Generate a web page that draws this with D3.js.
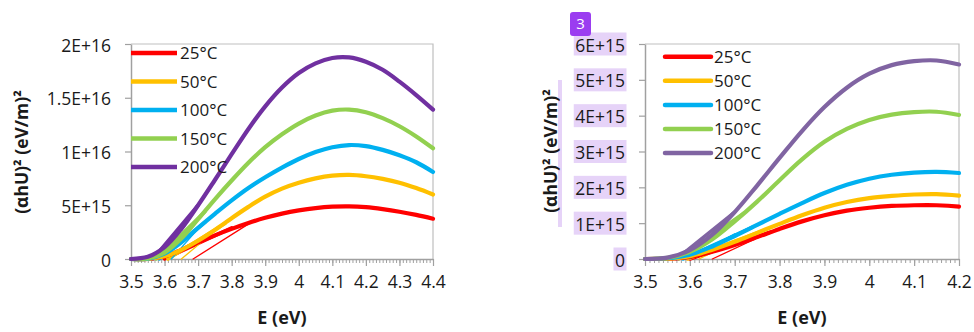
<!DOCTYPE html>
<html><head><meta charset="utf-8">
<script src="https://cdn.jsdelivr.net/npm/d3@7"></script>
<style>
body{margin:0;background:#fff}
svg{display:block}
text{font-family:"Open Sans","Noto Sans",sans-serif;fill:#1a1a1a}
</style>
</head><body>
<svg id="c" width="974" height="332"></svg>
<script>
// Tauc plots, (αhU)² versus photon energy, at five temperatures
const temps = ["25°C", "50°C", "100°C", "150°C", "200°C"];
const leftColors = ["#ff0000", "#ffc000", "#00b0f0", "#92d050", "#7030a0"];
const rightColors = ["#ff0000", "#ffc000", "#00b0f0", "#92d050", "#8064a2"];

// Left panel, E from 3.50 to 4.40 eV
const leftE = [3.50, 3.55, 3.60, 3.65, 3.70, 3.75, 3.80, 3.85, 3.90, 3.95, 4.00, 4.05, 4.10, 4.15, 4.20, 4.25, 4.30, 4.35, 4.40];
const left25  = [0, 0.02e15, 0.25e15, 0.85e15, 1.55e15, 2.2e15, 2.8e15, 3.35e15, 3.83e15, 4.22e15, 4.52e15, 4.74e15, 4.87e15, 4.9e15, 4.82e15, 4.64e15, 4.4e15, 4.1e15, 3.75e15];
const left50  = [0, 0.02e15, 0.25e15, 0.85e15, 1.7e15, 2.7e15, 3.8e15, 4.85e15, 5.8e15, 6.55e15, 7.1e15, 7.5e15, 7.75e15, 7.82e15, 7.7e15, 7.45e15, 7.1e15, 6.6e15, 6.0e15];
const left100 = [0, 0.03e15, 0.5e15, 1.55e15, 2.9e15, 4.2e15, 5.45e15, 6.6e15, 7.6e15, 8.5e15, 9.3e15, 9.95e15, 10.4e15, 10.6e15, 10.5e15, 10.15e15, 9.65e15, 9.0e15, 8.1e15];
const left150 = [0, 0.05e15, 0.6e15, 1.9e15, 3.7e15, 5.55e15, 7.3e15, 8.95e15, 10.4e15, 11.6e15, 12.6e15, 13.35e15, 13.8e15, 13.9e15, 13.65e15, 13.1e15, 12.35e15, 11.4e15, 10.3e15];
const left200 = [0, 0.2e15, 1.1e15, 2.8e15, 5.0e15, 7.35e15, 9.75e15, 12.1e15, 14.2e15, 15.95e15, 17.3e15, 18.2e15, 18.7e15, 18.75e15, 18.35e15, 17.6e15, 16.5e15, 15.25e15, 13.9e15];
const leftSeries = [left25, left50, left100, left150, left200];

// Right panel, E from 3.50 to 4.20 eV
const rightE = [3.50, 3.55, 3.60, 3.65, 3.70, 3.75, 3.80, 3.85, 3.90, 3.95, 4.00, 4.05, 4.10, 4.15, 4.20];
const right25  = [0, 0.01e15, 0.06e15, 0.2e15, 0.39e15, 0.61e15, 0.84e15, 1.05e15, 1.22e15, 1.35e15, 1.43e15, 1.48e15, 1.5e15, 1.5e15, 1.46e15];
const right50  = [0, 0.01e15, 0.08e15, 0.26e15, 0.48e15, 0.73e15, 0.98e15, 1.22e15, 1.43e15, 1.59e15, 1.7e15, 1.76e15, 1.8e15, 1.81e15, 1.77e15];
const right100 = [0, 0.02e15, 0.12e15, 0.35e15, 0.64e15, 0.95e15, 1.26e15, 1.56e15, 1.84e15, 2.07e15, 2.24e15, 2.35e15, 2.41e15, 2.43e15, 2.4e15];
const right150 = [0, 0.03e15, 0.2e15, 0.55e15, 1.05e15, 1.6e15, 2.2e15, 2.78e15, 3.27e15, 3.63e15, 3.88e15, 4.03e15, 4.1e15, 4.11e15, 4.02e15];
const right200 = [0, 0.04e15, 0.25e15, 0.68e15, 1.31e15, 2.05e15, 2.82e15, 3.57e15, 4.24e15, 4.78e15, 5.17e15, 5.41e15, 5.52e15, 5.54e15, 5.43e15];
const rightSeries = [right25, right50, right100, right150, right200];

// Linear fits of the absorption edge: [E at zero, E at end, value at end]
const leftFits  = [[3.60, 3.80, 2.9e15], [3.61, 3.78, 3.3e15], [3.585, 3.72, 3.4e15], [3.575, 3.72, 4.4e15], [3.565, 3.70, 5.0e15]];
const rightFits = [[3.60, 3.78, 0.75e15], [3.595, 3.76, 0.78e15], [3.585, 3.74, 0.89e15], [3.575, 3.72, 1.28e15], [3.57, 3.70, 1.31e15]];
// Thin tangent lines near the onset: [series, E at zero, E at end, value at end]
const leftTangents  = [[0, 3.685, 3.86, 3.45e15], [1, 3.65, 3.75, 2.6e15], [2, 3.62, 3.70, 2.8e15]];
const rightTangents = [[0, 3.65, 3.77, 0.7e15], [1, 3.62, 3.72, 0.6e15], [2, 3.60, 3.70, 0.7e15]];

// Axis ticks
const leftXTicks = [3.5, 3.6, 3.7, 3.8, 3.9, 4.0, 4.1, 4.2, 4.3, 4.4];
const leftXLabels = ["3.5", "3.6", "3.7", "3.8", "3.9", "4", "4.1", "4.2", "4.3", "4.4"];
const leftYTicks = [0, 5e15, 1e16, 1.5e16, 2e16];
const leftYLabels = ["0", "5E+15", "1E+16", "1.5E+16", "2E+16"];
const rightXTicks = [3.5, 3.6, 3.7, 3.8, 3.9, 4.0, 4.1, 4.2];
const rightXLabels = ["3.5", "3.6", "3.7", "3.8", "3.9", "4", "4.1", "4.2"];
const rightYTicks = [0, 1e15, 2e15, 3e15, 4e15, 5e15, 6e15];
const rightYLabels = ["0", "1E+15", "2E+15", "3E+15", "4E+15", "5E+15", "6E+15"];

const yTitle = "(αhU)² (eV/m)²";
const xTitle = "E (eV)";

const svg = d3.select("#c");

function panel(o) {
  const g = svg.append("g");
  const x = d3.scaleLinear().domain(o.xDomain).range([o.left, o.right]);
  const y = d3.scaleLinear().domain(o.yDomain).range([o.bottom, o.top]);

  // plot-area frame (top and right)
  g.append("path")
    .attr("d", `M${o.left},${o.top}H${o.right}V${o.bottom}`)
    .attr("fill", "none").attr("stroke", "#bfbfbf").attr("stroke-width", 1.2);

  // y-axis title (with optional highlight strip)
  if (o.titleStrip) {
    g.append("rect").attr("x", o.titleStrip[0]).attr("y", o.titleStrip[1])
      .attr("width", o.titleStrip[2]).attr("height", o.titleStrip[3]).attr("fill", "#e6d3f8");
  }
  g.append("text")
    .attr("transform", `translate(${o.yTitleX},${o.yTitleY}) rotate(-90)`)
    .attr("text-anchor", "middle").attr("font-weight", "bold").attr("font-size", 17.5)
    .text(yTitle);

  // x-axis title
  g.append("text")
    .attr("x", (o.left + o.right) / 2).attr("y", 324)
    .attr("text-anchor", "middle").attr("font-weight", "bold").attr("font-size", 18)
    .text(xTitle);

  // minor x ticks every 0.01 eV
  const minor = d3.range(Math.round(o.xDomain[0] * 100), Math.round(o.xDomain[1] * 100) + 1).map(d => d / 100);
  const gm = g.append("g").attr("transform", `translate(0,${o.bottom})`)
    .call(d3.axisBottom(x).tickValues(minor).tickSize(4).tickFormat(""));
  gm.select(".domain").remove();
  gm.selectAll("line").attr("stroke", "#a0a0a0");

  // major x ticks and labels
  const gx = g.append("g").attr("transform", `translate(0,${o.bottom})`)
    .call(d3.axisBottom(x).tickValues(o.xTicks).tickSize(7).tickSizeOuter(0)
      .tickFormat((d, i) => o.xLabels[i]));
  gx.select(".domain").attr("stroke", "#a0a0a0").attr("stroke-width", 1.5);
  gx.selectAll("line").attr("stroke", "#a0a0a0").attr("stroke-width", 1.2);
  gx.selectAll("text").attr("font-size", 17.5).attr("dy", "1.1em").attr("fill", "#1a1a1a")
    .style("font-family", '"Open Sans","Noto Sans",sans-serif');

  // y ticks and labels
  const gy = g.append("g").attr("transform", `translate(${o.left},0)`)
    .call(d3.axisLeft(y).tickValues(o.yTicks).tickSize(6).tickSizeOuter(0)
      .tickFormat((d, i) => o.yLabels[i]));
  gy.select(".domain").attr("stroke", "#a0a0a0").attr("stroke-width", 1.5);
  gy.selectAll("line").attr("stroke", "#a0a0a0").attr("stroke-width", 1.2);
  gy.selectAll("text").attr("font-size", 17.5).attr("x", -20).attr("dy", "0.4em")
    .attr("fill", o.yLabelFill || "#1a1a1a")
    .style("font-family", '"Open Sans","Noto Sans",sans-serif');
  if (o.yLabelBoxes) {
    gy.selectAll(".tick").each(function () {
      const t = d3.select(this).select("text");
      const b = t.node().getBBox();
      d3.select(this).insert("rect", "text")
        .attr("x", b.x - 1.5).attr("y", b.y)
        .attr("width", b.width + 3).attr("height", b.height - 1)
        .attr("fill", "#e6d3f8");
    });
  }

  const line = d3.line().x(d => x(d[0])).y(d => y(d[1])).curve(d3.curveCatmullRom.alpha(0.5));
  const curves = g.append("g").attr("fill", "none").attr("stroke-linecap", "round");

  // linear fits along the edge
  o.fits.forEach((f, i) => {
    curves.append("path")
      .attr("d", d3.line()([[x(f[0]), y(0)], [x(f[1]), y(f[2])]]))
      .attr("stroke", o.colors[i]).attr("stroke-width", 3.5);
  });
  o.tangents.forEach(t => {
    curves.append("path")
      .attr("d", d3.line()([[x(t[1]), y(0)], [x(t[2]), y(t[3])]]))
      .attr("stroke", o.colors[t[0]]).attr("stroke-width", 1.3);
  });
  // measured curves
  o.series.forEach((s, i) => {
    curves.append("path")
      .attr("d", line(o.E.map((e, j) => [e, s[j]])))
      .attr("stroke", o.colors[i]).attr("stroke-width", 4.2);
  });

  // legend
  const lg = g.append("g");
  temps.forEach((t, i) => {
    const ly = o.legY + i * o.legStep;
    lg.append("line").attr("x1", o.legX).attr("x2", o.legX + 46).attr("y1", ly).attr("y2", ly)
      .attr("stroke", o.colors[i]).attr("stroke-width", 4.5).attr("stroke-linecap", o.legCap);
    lg.append("text").attr("x", o.legX + 49).attr("y", ly).attr("dy", "0.36em")
      .attr("font-size", 17).text(t);
  });
}

panel({
  xDomain: [3.5, 4.4], yDomain: [0, 2e16],
  left: 131, right: 433, top: 44, bottom: 259,
  E: leftE, series: leftSeries, colors: leftColors,
  fits: leftFits, tangents: leftTangents,
  xTicks: leftXTicks, xLabels: leftXLabels, yTicks: leftYTicks, yLabels: leftYLabels,
  yTitleX: 28, yTitleY: 152,
  legX: 131, legY: 53, legStep: 28.5, legCap: "butt"
});

panel({
  xDomain: [3.5, 4.2], yDomain: [0, 6e15],
  left: 645, right: 959, top: 44, bottom: 259,
  E: rightE, series: rightSeries, colors: rightColors,
  fits: rightFits, tangents: rightTangents,
  xTicks: rightXTicks, xLabels: rightXLabels, yTicks: rightYTicks, yLabels: rightYLabels,
  yTitleX: 557, yTitleY: 151, titleStrip: [558, 80, 4, 147],
  yLabelBoxes: true, yLabelFill: "#2a1b3d",
  legX: 665, legY: 56.7, legStep: 24.1, legCap: "round"
});

// numbered marker above the right panel
const badge = svg.append("g").attr("transform", "translate(570,12)");
badge.append("rect").attr("width", 21).attr("height", 24).attr("rx", 3).attr("fill", "#9b3df0");
badge.append("text").attr("x", 10.5).attr("y", 12).attr("dy", "0.36em").attr("text-anchor", "middle")
  .attr("font-size", 15).style("fill", "#ffffff").text("3");
</script>
</body></html>
